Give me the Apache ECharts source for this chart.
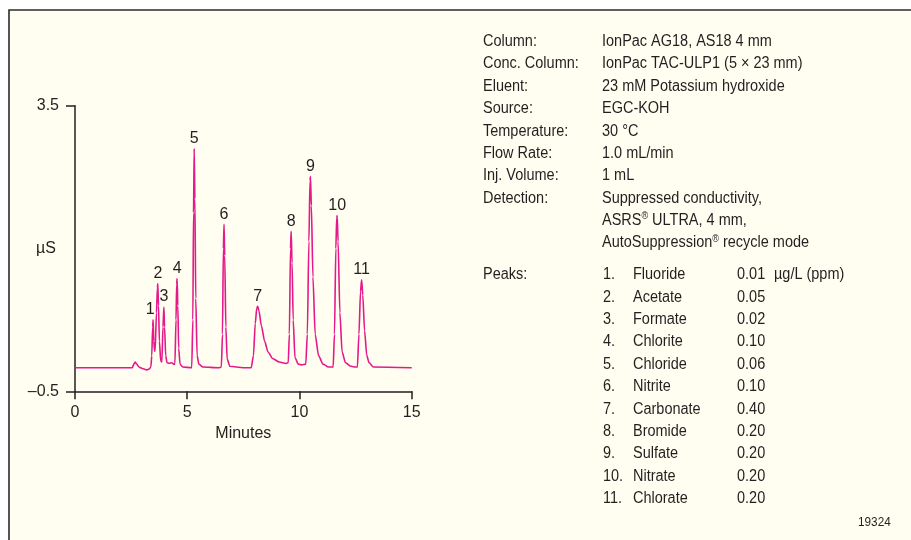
<!DOCTYPE html>
<html>
<head>
<meta charset="utf-8">
<script src="https://cdn.jsdelivr.net/npm/echarts@6/dist/echarts.min.js"></script>
<style>
html,body{margin:0;padding:0;background:#fff;}
#chart{width:911px;height:540px;}
</style>
</head>
<body>
<div id="chart"></div>
<script>
// ---- data ----
const xTicks = [0, 5, 10, 15];
const yTicks = [-0.5, 3.5];
const peakIds = ['1','2','3','4','5','6','7','8','9','10','11'];
const peakTimes = [3.48, 3.69, 3.96, 4.55, 5.31, 6.64, 8.14, 9.63, 10.49, 11.68, 12.77];
const peakHeights = [0.50, 1.01, 0.68, 1.08, 2.90, 1.84, 0.69, 1.74, 2.51, 1.96, 1.06];
const trace = [
  [0,-0.17],[2.55,-0.17],[2.62,-0.12],[2.68,-0.09],[2.75,-0.12],[2.85,-0.16],[3.0,-0.18],[3.2,-0.2],[3.3,-0.19],[3.38,-0.16],
  [3.42,0.0],[3.46,0.40],[3.48,0.50],[3.51,0.20],[3.55,0.06],[3.57,0.07],
  [3.63,0.60],[3.67,0.95],[3.69,1.01],[3.72,0.70],[3.76,0.20],[3.82,-0.08],[3.87,-0.09],
  [3.92,0.40],[3.96,0.68],[3.99,0.40],[4.04,0.0],[4.1,-0.10],[4.2,-0.11],[4.3,-0.10],[4.4,-0.12],
  [4.45,-0.12],[4.50,0.50],[4.53,1.00],[4.55,1.08],[4.58,0.70],[4.62,0.10],[4.68,-0.12],[4.8,-0.16],
  [5.2,-0.17],[5.25,0.50],[5.28,2.00],[5.31,2.90],[5.34,2.20],[5.38,0.80],[5.44,0.0],[5.52,-0.12],[5.7,-0.16],[6.4,-0.17],
  [6.52,-0.16],[6.57,0.30],[6.61,1.50],[6.64,1.84],[6.67,1.40],[6.72,0.40],[6.78,-0.05],[6.9,-0.15],[7.5,-0.17],
  [7.85,-0.17],[7.95,0.0],[8.03,0.45],[8.10,0.67],[8.14,0.69],[8.2,0.62],[8.3,0.42],[8.45,0.20],[8.6,0.05],[8.8,-0.04],[9.1,-0.09],[9.4,-0.11],
  [9.5,-0.10],[9.55,0.30],[9.60,1.50],[9.63,1.74],[9.67,1.30],[9.72,0.50],[9.8,-0.03],[9.95,-0.12],[10.1,-0.13],
  [10.28,-0.12],[10.35,0.30],[10.42,1.60],[10.47,2.45],[10.49,2.51],[10.53,2.10],[10.6,1.10],[10.7,0.30],[10.85,0.0],[11.05,-0.12],[11.3,-0.16],
  [11.5,-0.16],[11.56,0.30],[11.62,1.50],[11.66,1.93],[11.68,1.96],[11.72,1.60],[11.8,0.60],[11.9,0.05],[12.05,-0.10],[12.3,-0.15],[12.5,-0.16],
  [12.58,-0.16],[12.65,0.30],[12.72,0.90],[12.77,1.06],[12.82,0.85],[12.9,0.35],[13.0,0.0],[13.1,-0.10],[13.3,-0.16],[15,-0.17]
];
const paramLabels = ['Column:', 'Conc. Column:', 'Eluent:', 'Source:', 'Temperature:', 'Flow Rate:', 'Inj. Volume:', 'Detection:'];
const paramValues = ['IonPac AG18, AS18 4 mm', 'IonPac TAC-ULP1 (5 \u00d7 23 mm)', '23 mM Potassium hydroxide', 'EGC-KOH', '30 \u00b0C', '1.0 mL/min', '1 mL', 'Suppressed conductivity,', 'ASRS{sup|\u00ae} ULTRA, 4 mm,', 'AutoSuppression{sup|\u00ae} recycle mode'];
const peaksLabel = 'Peaks:';
const peakNames = ['Fluoride', 'Acetate', 'Formate', 'Chlorite', 'Chloride', 'Nitrite', 'Carbonate', 'Bromide', 'Sulfate', 'Nitrate', 'Chlorate'];
const peakConcs = ['0.01', '0.05', '0.02', '0.10', '0.06', '0.10', '0.40', '0.20', '0.20', '0.20', '0.20'];
const concUnit = '\u00b5g/L (ppm)';
const figureId = '19324';

// ---- style ----
const FONT = '"Liberation Sans", Arial, sans-serif';
const FS = 16;
const SX = 0.905;
const INK = '#231f20';
const TRACE = '#e5198a';
const BG = '#fffef0';

const graphics = [];
graphics.push({type:'rect', z:-10, shape:{x:9, y:10, width:920, height:560}, style:{fill:BG, stroke:'#2b2b2b', lineWidth:1.6}, silent:true});
function txt(x, y, s, size) {
  graphics.push({type:'text', x:x, y:y, scaleX:SX, scaleY:1, silent:true,
    style:{text:s, font:(size || FS) + 'px ' + FONT, fill:INK, align:'left', verticalAlign:'middle',
      rich:{sup:{fontSize:10, fontFamily:FONT, fill:INK, padding:[0,0,8,0]}}}});
}
const rowH = 22.35;
const top0 = 41.7;
paramLabels.forEach((s,i)=>txt(483, top0 + i*rowH, s));
paramValues.forEach((s,i)=>txt(602, top0 + i*rowH, s));
const ptop = 275;
txt(483, ptop, peaksLabel);
peakNames.forEach((s,i)=>{
  txt(603, ptop + i*rowH, peakIds[i] + '.');
  txt(633, ptop + i*rowH, s);
  txt(737, ptop + i*rowH, peakConcs[i]);
});
txt(774, ptop, concUnit);
txt(858, 522, figureId, 13);

const chart = echarts.init(document.getElementById('chart'), null, {renderer:'canvas'});
chart.setOption({
  backgroundColor:'#ffffff',
  animation:false,
  graphic: graphics,
  grid:{left:75, top:105.7, width:336.7, height:285.6, containLabel:false},
  xAxis:{
    type:'value', min:0, max:15, interval:5,
    name:'Minutes', nameLocation:'middle', nameGap:34, nameMoveOverlap:false,
    nameTextStyle:{fontFamily:FONT, fontSize:FS, color:INK},
    axisLine:{show:true, onZero:false, lineStyle:{color:INK, width:1.5}},
    axisTick:{show:true, length:8, lineStyle:{color:INK, width:1.5}},
    axisLabel:{fontFamily:FONT, fontSize:FS, color:INK, margin:13},
    splitLine:{show:false}
  },
  yAxis:{
    type:'value', min:-0.5, max:3.5,
    name:'\u00b5S', nameLocation:'middle', nameRotate:0, nameGap:19, nameMoveOverlap:false,
    nameTextStyle:{fontFamily:FONT, fontSize:FS, color:INK},
    axisLine:{show:true, onZero:false, lineStyle:{color:INK, width:1.5}},
    axisTick:{show:true, length:9, customValues:yTicks, lineStyle:{color:INK, width:1.5}},
    axisLabel:{fontFamily:FONT, fontSize:FS, color:INK, margin:16, customValues:yTicks,
      formatter:v => (v < 0 ? '\u2013' + Math.abs(v) : String(v))},
    splitLine:{show:false}
  },
  series:[
    {type:'line', data:trace, showSymbol:false, symbol:'none', smooth:0.25, smoothMonotone:'x',
     lineStyle:{color:TRACE, width:1.6}, z:3, silent:true},
    {type:'scatter', data:peakTimes.map((t,i)=>({value:[t, peakHeights[i]], label:i===0?{offset:[-3,0]}:undefined})), symbolSize:0, z:4, silent:true,
     itemStyle:{color:INK, opacity:1},
     label:{show:true, position:'top', distance:2, fontFamily:FONT, fontSize:FS, color:INK, opacity:1, textBorderWidth:0,
       formatter:p => peakIds[p.dataIndex]}}
  ]
});
</script>
</body>
</html>
